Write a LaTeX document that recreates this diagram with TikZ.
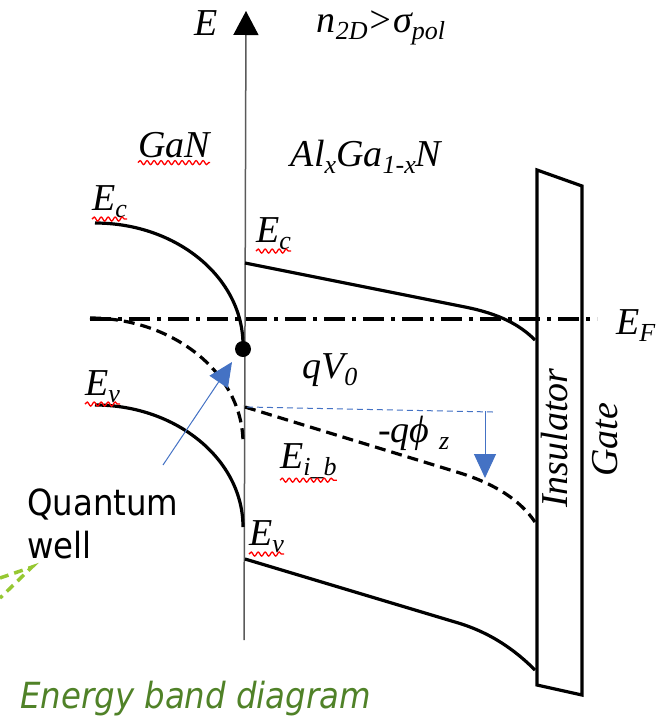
\documentclass[tikz,border=0pt]{standalone}
\usepackage{fontspec}
\setmainfont{Liberation Serif}
\newfontfamily\qwfont[FakeStretch=0.9]{DejaVu Sans}
\usetikzlibrary{arrows.meta,decorations.pathmorphing}
\definecolor{colArrow}{RGB}{68,114,196}
\definecolor{colCaption}{RGB}{80,130,40}
\definecolor{colHint}{RGB}{150,200,50}
\definecolor{colAxis}{RGB}{90,90,90}
\newcommand{\lo}[1]{\raisebox{-0.2em}{\fontsize{26}{26}\selectfont #1}}

\begin{document}
\begin{tikzpicture}[x=1pt, y=-1pt,
    every node/.style={inner sep=0pt, font=\fontsize{38}{40}\selectfont\itshape},
    band/.style={line width=3.2pt},
    bandd/.style={band, dash pattern=on 11pt off 6pt},
    squig/.style={red, line width=1.3pt, decorate, decoration={snake, amplitude=2pt, segment length=7pt}},
    guide/.style={colArrow, line width=1pt},
    sans/.style={font=\fontsize{36}{43}\selectfont\qwfont}
]
    \useasboundingbox (0,0) rectangle (661,718);

    % energy axis
    \coordinate (axB) at (244,640);
    \coordinate (axT) at (246,11);
    \draw[colAxis, line width=1.5pt, -{Triangle[width=25pt,length=24pt,color=black]}] (axB) -- (axT);
    \node[anchor=base] (E) at (206,35) {E};
    \node[anchor=base] (cond) at (381,32) {n\lo{2D}>σ\lo{pol}};

    % materials
    \node[anchor=base] (gan) at (174,157) {GaN};
    \node[anchor=base] (algan) at (366,166) {Al\lo{x}Ga\lo{1-x}N};

    % insulator and gate
    \draw[band] (537,170) -- (582,186) -- (582,695) -- (537,685) -- cycle;
    \node[rotate=90] (ins) at (555,438) {Insulator};
    \node[rotate=90] (gate) at (605,440) {Gate};

    % Fermi level
    \coordinate (efL) at (90,319);
    \coordinate (efR) at (597,319);
    \draw[band, dash pattern=on 21pt off 7pt on 4pt off 7pt] (efL) -- (efR);
    \node[anchor=base west] (ef) at (616,334) {E\lo{F}};

    % GaN side
    \draw[band] (95,223) .. controls (177,223) and (243,278) .. (243,345);
    \draw[bandd] (90,318) .. controls (174,318) and (243,374) .. (243,443);
    \draw[band] (95,405) .. controls (177,405) and (243,460) .. (243,527);
    \node[anchor=base west] (ecL) at (92,210) {E\lo{c}};
    \node[anchor=base west] (evL) at (85,395) {E\lo{v}};

    % AlGaN side
    \draw[band] (245,263) -- (465,307) .. controls (500,314) and (520,325) .. (535,340);
    \draw[bandd] (245,407) -- (460,473) .. controls (495,484) and (520,500) .. (535,522);
    \draw[band] (245,559) -- (455,622) .. controls (490,632) and (515,650) .. (535,670);
    \node[anchor=base west] (ecR) at (256,242) {E\lo{c}};
    \node[anchor=base west] (evR) at (249,545) {E\lo{v}};
    \node[anchor=base west] (eib) at (280,468) {E\lo{i\_b}};
    \node[anchor=base west] (qv) at (302,378) {qV\lo{0}};
    \node[anchor=base west] (phi) at (378,442) {-qϕ \lo{z}};

    % 2DEG
    \node[circle, fill, minimum size=16pt] (dot) at (243,349) {};

    % blue guides
    \coordinate (qwTail) at (163,465);
    \coordinate (qwTip) at (232,362);
    \draw[guide, -{Triangle[width=22pt,length=24pt]}] (qwTail) -- (qwTip);
    \coordinate (phiL) at (247,407);
    \coordinate (phiR) at (493,412);
    \draw[guide, dash pattern=on 6pt off 4pt] (phiL) -- (phiR);
    \coordinate (phiT) at (485,411);
    \coordinate (phiB) at (485,478);
    \draw[guide, -{Triangle[width=22pt,length=24pt]}] (phiT) -- (phiB);

    % spell-check marks
    \draw[squig] ([yshift=-5pt]gan.south west) -- ([yshift=-5pt]gan.south east);
    \draw[squig] ([yshift=-1pt]ecL.south west) -- ([yshift=-1pt]ecL.south east);
    \draw[squig] ([yshift=-1pt]ecR.south west) -- ([yshift=-1pt]ecR.south east);
    \draw[squig] ([yshift=-1pt]evL.south west) -- ([yshift=-1pt]evL.south east);
    \draw[squig] ([yshift=-1pt]evR.south west) -- ([yshift=-1pt]evR.south east);
    \draw[squig] ([yshift=-1pt]eib.south west) -- ([yshift=-1pt]eib.south east);

    % captions
    \node[sans, anchor=base west, align=left] (qw) at (27,558) {Quantum\\well};
    \node[sans, anchor=base west, colCaption, font=\fontsize{36}{40}\selectfont\qwfont\itshape] (cap) at (20,708) {Energy band diagram};
    \coordinate (hintA) at (0,578);
    \coordinate (hintB) at (0,598);
    \coordinate (hintTip) at (32,567);
    \draw[colHint, line width=3.5pt, dash pattern=on 9pt off 6pt] (hintA) -- (hintTip) -- (hintB);
\end{tikzpicture}
\end{document}
